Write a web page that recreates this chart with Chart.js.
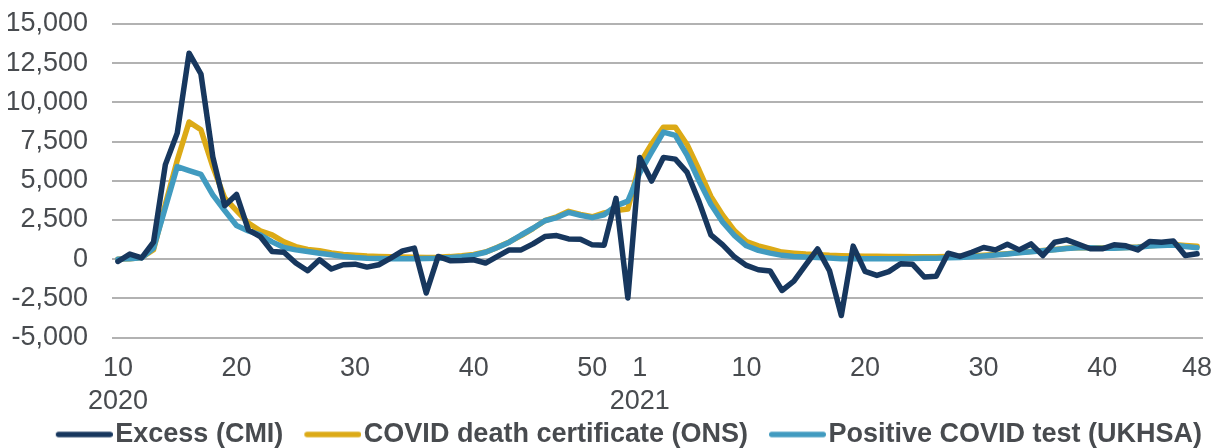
<!DOCTYPE html>
<html>
<head>
<meta charset="utf-8">
<script src="https://cdn.jsdelivr.net/npm/chart.js@4.4.1/dist/chart.umd.min.js"></script>
<style>
  html, body { margin: 0; padding: 0; background: #ffffff; }
  #wrap { width: 1211px; height: 448px; position: relative; }
</style>
</head>
<body>
<div id="wrap"><canvas id="c"></canvas></div>
<script>
// ---- Data ----
const weeks2020 = [10,11,12,13,14,15,16,17,18,19,20,21,22,23,24,25,26,27,28,29,30,31,32,33,34,35,36,37,38,39,40,41,42,43,44,45,46,47,48,49,50,51,52,53];
const weeks2021 = [1,2,3,4,5,6,7,8,9,10,11,12,13,14,15,16,17,18,19,20,21,22,23,24,25,26,27,28,29,30,31,32,33,34,35,36,37,38,39,40,41,42,43,44,45,46,47,48];

const shownTicks2020 = [10,20,30,40,50];
const shownTicks2021 = [1,10,20,30,40,48];
const yearLabel2020 = "2020";
const yearLabel2021 = "2021";

const excessCMI = [-150,320,80,1080,6030,8040,13140,11810,6520,3410,4130,1870,1440,490,440,-250,-740,-40,-630,-360,-320,-510,-360,60,530,700,-2160,170,-100,-80,-40,-250,170,590,590,975,1440,1500,1290,1270,910,890,3880,-2480,
  6490,4980,6490,6380,5530,3670,1550,910,130,-400,-680,-760,-2000,-1400,-360,650,-730,-3600,830,-780,-1040,-800,-300,-320,-1140,-1100,380,170,440,740,590,950,590,970,230,1080,1230,950,660,660,910,850,590,1120,1080,1160,230,340];

const deathCertONS = [0,20,100,600,3500,6300,8750,8250,5900,3900,3100,2300,1800,1550,1100,800,620,530,400,300,250,200,170,150,130,120,110,120,160,220,300,450,750,1100,1500,1950,2450,2700,3050,2850,2700,2950,3100,3200,
  6100,7350,8420,8420,7300,5700,4000,2800,1800,1120,850,650,450,380,320,280,240,220,200,190,180,170,160,150,150,150,160,180,200,240,290,350,420,480,550,620,700,740,730,720,720,740,780,850,900,930,870,820];

const positiveTestUKHSA = [0,30,80,700,3300,5900,5650,5400,4100,3100,2150,1800,1550,1100,740,590,490,380,275,170,100,60,40,30,30,30,40,60,100,160,250,440,740,1080,1540,1970,2450,2650,2980,2800,2650,2830,3400,3700,
  5500,6830,8100,7890,6620,5000,3500,2350,1500,850,560,380,240,170,130,110,70,30,20,20,20,20,30,40,50,60,80,110,150,200,260,330,400,470,540,600,680,720,720,700,700,720,760,830,870,900,800,730];

const seriesNames = ["Excess (CMI)", "COVID death certificate (ONS)", "Positive COVID test (UKHSA)"];

// ---- Build categories and tick texts ----
const categories = [];
const tickTexts = [];
weeks2020.forEach(w => {
  categories.push("2020-W" + w);
  if (w === weeks2020[0]) tickTexts.push([String(w), yearLabel2020]);
  else tickTexts.push(shownTicks2020.includes(w) ? String(w) : "");
});
weeks2021.forEach(w => {
  categories.push("2021-W" + w);
  if (w === 1) tickTexts.push([String(w), yearLabel2021]);
  else tickTexts.push(shownTicks2021.includes(w) ? String(w) : "");
});

const NAVY = "#17375e";
const GOLD = "#dcaa16";
const SKY  = "#419bc0";
const TEXT = "#484b4f";
const FONT = "'Liberation Sans', Arial, sans-serif";

const LEG_FONT = 27;
const LEG_BOX = 66;
function legendLine(color) {
  const cv = document.createElement('canvas');
  cv.width = 88; cv.height = 12;
  const g = cv.getContext('2d');
  g.strokeStyle = color;
  g.lineWidth = 5.5;
  g.lineCap = 'round';
  g.beginPath();
  g.moveTo(31 + 2.75, 6);
  g.lineTo(88 - 2.75, 6);
  g.stroke();
  return cv;
}

const ds = [
  { label: seriesNames[0], data: excessCMI, borderColor: NAVY, backgroundColor: NAVY, borderWidth: 5.5 },
  { label: seriesNames[2], data: positiveTestUKHSA, borderColor: SKY, backgroundColor: SKY, borderWidth: 5.5 },
  { label: seriesNames[1], data: deathCertONS, borderColor: GOLD, backgroundColor: GOLD, borderWidth: 5.5 }
].map(d => Object.assign(d, { pointRadius: 0, tension: 0, fill: false, borderJoinStyle: 'round', borderCapStyle: 'round' }));

const legendOrder = [0, 2, 1];

new Chart(document.getElementById('c'), {
  type: 'line',
  data: { labels: categories, datasets: ds },
  options: {
    responsive: true,
    maintainAspectRatio: false,
    animation: false,
    events: [],
    layout: { padding: { left: 8, right: 8, top: 24, bottom: -10 } },
    plugins: {
      tooltip: { enabled: false },
      legend: {
        position: 'bottom',
        align: 'end',
        labels: {
          color: TEXT,
          font: { family: FONT, size: LEG_FONT, weight: 'bold' },
          usePointStyle: true,
          pointStyleWidth: LEG_BOX,
          boxHeight: LEG_FONT,
          padding: 1,
          generateLabels: (chart) => legendOrder.map(i => {
            const d = chart.data.datasets[i];
            return {
              text: d.label,
              fillStyle: d.borderColor,
              strokeStyle: d.borderColor,
              lineWidth: 0,
              pointStyle: legendLine(d.borderColor),
              hidden: false,
              datasetIndex: i,
              fontColor: TEXT
            };
          })
        }
      }
    },
    scales: {
      x: {
        type: 'category',
        offset: true,
        grid: { display: false, drawTicks: false },
        border: { display: false },
        ticks: {
          autoSkip: false,
          maxRotation: 0,
          minRotation: 0,
          padding: 15,
          color: TEXT,
          font: { family: FONT, size: 27 },
          callback: (v, i) => tickTexts[i]
        },
        afterFit: (s) => { s.height = 82.5; s.paddingLeft = 0; s.paddingRight = 0; }
      },
      y: {
        min: -5000,
        max: 15000,
        grid: { color: '#b2b2b2', lineWidth: 2, drawTicks: false },
        border: { display: false },
        ticks: {
          stepSize: 2500,
          padding: 24,
          color: TEXT,
          font: { family: FONT, size: 27 },
          callback: (v) => v.toLocaleString('en-US')
        },
        afterFit: (s) => { s.width = 104; s.paddingTop = 0; s.paddingBottom = 0; }
      }
    }
  }
});
</script>
</body>
</html>
